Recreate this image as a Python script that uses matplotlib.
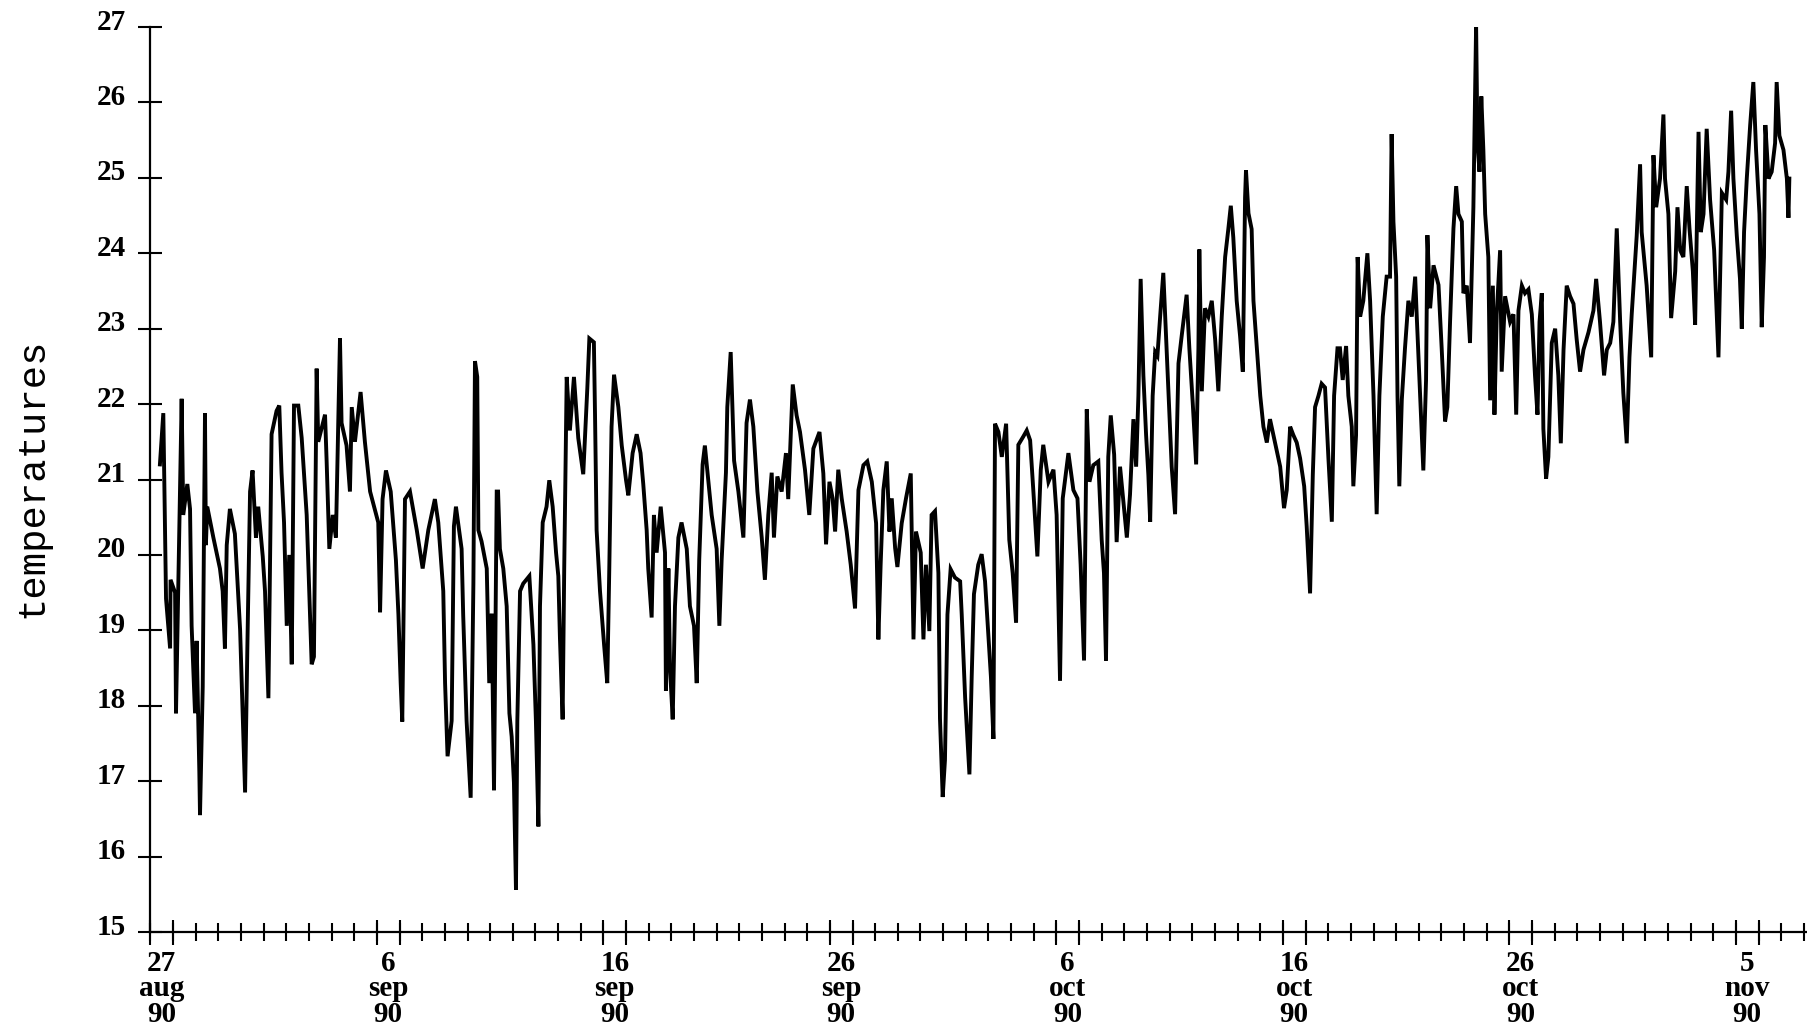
import numpy as np
import matplotlib
matplotlib.use("Agg")
import matplotlib.pyplot as plt
from matplotlib.transforms import ScaledTranslation

# days since 27 aug 1990 00:00
days = [
    0.42, 0.57, 0.69, 0.87, 0.89, 1.09, 1.13, 1.38, 1.45, 1.63, 1.75, 1.82, 1.97, 2.04,
    2.16, 2.19, 2.31, 2.41, 2.45, 2.51, 2.78, 3.07, 3.19, 3.29, 3.37, 3.51, 3.73, 3.96,
    4.18, 4.28, 4.40, 4.51, 4.66, 4.76, 4.96, 5.06, 5.21, 5.35, 5.57, 5.69, 5.79, 5.90,
    6.02, 6.13, 6.24, 6.34, 6.53, 6.68, 6.90, 7.12, 7.22, 7.34, 7.41, 7.71, 7.78, 7.90,
    8.05, 8.19, 8.37, 8.44, 8.66, 8.81, 8.89, 9.03, 9.28, 9.47, 9.70, 10.06, 10.14, 10.25,
    10.40, 10.61, 10.84, 10.95, 11.05, 11.12, 11.24, 11.46, 11.76, 12.02, 12.27, 12.56,
    12.71, 12.93, 13.01, 13.12, 13.30, 13.40, 13.49, 13.74, 13.81, 13.96, 14.14, 14.26,
    14.33,
    14.43, 14.48, 14.62, 14.85, 14.96, 15.07, 15.17, 15.29, 15.35, 15.43, 15.58, 15.73,
    15.85, 15.95, 16.05, 16.14, 16.20, 16.32, 16.46, 16.73, 16.91, 17.02, 17.13, 17.20,
    17.32, 17.49, 17.61, 17.76, 17.91, 18.01, 18.08, 18.20, 18.27, 18.38, 18.52, 18.70,
    18.89, 19.11, 19.29, 19.38, 19.58, 19.63, 19.70, 19.85, 20.03, 20.17, 20.26, 20.36,
    20.47, 20.66, 20.81, 21.00, 21.10, 21.29, 21.47, 21.64, 21.76, 21.91, 21.98, 22.13,
    22.23, 22.35, 22.53, 22.72, 22.76, 22.87, 22.94, 23.06, 23.16, 23.31, 23.45, 23.68,
    23.82, 24.00, 24.12, 24.23, 24.38, 24.48, 24.63, 24.78, 25.00, 25.12, 25.22, 25.41,
    25.47, 25.62, 25.77, 25.96, 26.18, 26.32, 26.47, 26.62, 26.80, 26.99, 27.13, 27.28,
    27.43, 27.53, 27.68, 27.87, 28.06, 28.16, 28.36,
    28.53, 28.68, 28.90, 29.09, 29.27, 29.54, 29.71, 29.83, 29.98, 30.12, 30.23, 30.37,
    30.52, 30.74, 30.92, 31.11, 31.26, 31.48, 31.65, 31.85, 32.04, 32.14, 32.24, 32.36,
    32.51, 32.63, 32.73, 32.88, 32.98, 33.17, 33.36, 33.57, 33.69, 33.80, 34.01, 34.13,
    34.24, 34.39, 34.49, 34.64, 34.79, 34.86, 34.98, 35.08, 35.19, 35.33, 35.52, 35.75,
    35.82, 35.97, 36.16, 36.26, 36.36, 36.55, 36.70, 36.85, 37.00, 37.11, 37.22, 37.29,
    37.44, 37.59, 37.78, 37.92, 38.07, 38.22, 38.32, 38.54, 38.69, 38.84, 38.98, 39.16,
    39.31, 39.42, 39.65, 39.87, 40.01, 40.16, 40.28, 40.53, 40.75, 40.93, 41.07, 41.22,
    41.34, 41.46, 41.63, 41.85, 42.00, 42.10, 42.19, 42.29, 42.40,
    42.55, 42.66, 42.81, 42.96, 43.11, 43.25, 43.40, 43.52, 43.62, 43.72, 43.84, 43.96,
    44.06, 44.14, 44.25, 44.36, 44.46, 44.58, 44.72, 44.84, 44.95, 45.09, 45.24, 45.39,
    45.53, 45.75, 45.87, 46.02, 46.17, 46.27, 46.31, 46.42, 46.56, 46.71, 46.86, 47.01,
    47.15, 47.30, 47.45, 47.59, 47.70, 47.81, 47.96, 48.11, 48.23, 48.33, 48.37, 48.48,
    48.62, 48.70, 48.85, 49.00, 49.14, 49.29, 49.43, 49.58, 49.73, 49.88, 50.05, 50.17,
    50.32, 50.46, 50.61, 50.76, 50.94, 51.05, 51.20, 51.32, 51.42, 51.57, 51.71, 51.86,
    52.01, 52.16, 52.26, 52.41, 52.52, 52.64, 52.79, 52.89, 53.04, 53.11, 53.23, 53.30,
    53.41, 53.55, 53.73, 53.85, 54.00, 54.14, 54.26, 54.41, 54.58, 54.73, 54.80, 54.88,
    55.00, 55.06, 55.14, 55.25, 55.39, 55.54, 55.69, 55.84, 55.91, 56.06, 56.20, 56.32,
    56.38, 56.50, 56.65, 56.87, 57.01,
    57.16, 57.26, 57.38, 57.53, 57.65, 57.75, 57.90, 57.97, 58.12, 58.26, 58.34, 58.41,
    58.53, 58.59, 58.68, 58.76, 58.85, 58.93, 59.07, 59.15, 59.27, 59.34, 59.44, 59.59,
    59.66, 59.81, 60.03, 60.18, 60.30, 60.40, 60.55, 60.69, 60.84, 60.99, 61.13, 61.24,
    61.33, 61.43, 61.50, 61.62, 61.72, 61.87, 62.02, 62.16, 62.27, 62.39, 62.53, 62.68,
    62.83, 62.97, 63.12, 63.27, 63.49, 63.71, 63.83, 64.00, 64.18, 64.30, 64.45, 64.59,
    64.74, 64.89, 65.03, 65.18, 65.30, 65.40, 65.62, 65.77, 65.84, 66.06, 66.26, 66.36,
    66.48, 66.65, 66.80, 66.87, 67.02, 67.14, 67.32, 67.42, 67.54, 67.68, 67.83, 67.95,
    68.10, 68.20, 68.35, 68.45, 68.57, 68.71, 68.86, 69.04, 69.23, 69.38, 69.57, 69.67,
    69.79, 69.89, 70.04, 70.18, 70.26, 70.36, 70.48, 70.63, 70.77, 70.89, 71.04, 71.14,
    71.24, 71.30, 71.44, 71.58, 71.73, 71.80, 71.92, 72.10, 72.25, 72.32, 72.36,
]

temps = [
    21.20, 21.88, 19.42, 18.76, 19.67, 19.50, 17.90, 22.07, 20.53, 20.94, 20.61, 19.06,
    17.90, 18.86, 17.13, 16.55, 18.25, 21.88, 20.13, 20.64, 20.23, 19.82, 19.52, 18.76,
    20.13, 20.61, 20.28, 19.01, 16.85, 18.76, 20.84, 21.12, 20.23, 20.64, 19.98, 19.52,
    18.10, 21.60, 21.91, 21.98, 21.09, 20.43, 19.06, 20.00, 18.55, 21.98, 21.98, 21.55,
    20.53, 18.55, 18.65, 22.47, 21.50, 21.86, 21.25, 20.08, 20.53, 20.23, 22.87, 21.75,
    21.45, 20.84, 21.96, 21.50, 22.16, 21.50, 20.84, 20.43, 19.24, 20.74, 21.12, 20.84,
    19.93, 19.21, 18.30, 17.79, 20.74, 20.84, 20.33, 19.82, 20.33, 20.74, 20.43, 19.52,
    18.30, 17.33, 17.80, 20.38, 20.64, 20.08, 19.20, 17.80, 16.78, 19.62, 22.57,
    22.36, 20.33, 20.18, 19.82, 18.30, 19.22, 16.88, 20.84, 20.84, 20.08, 19.82, 19.32,
    17.90, 17.59, 16.98, 15.56, 17.80, 19.52, 19.62, 19.72, 18.81, 17.80, 16.40, 19.32,
    20.43, 20.64, 20.99, 20.64, 20.03, 19.72, 18.91, 17.82, 19.82, 22.36, 21.65, 22.36,
    21.55, 21.07, 22.21, 22.87, 22.82, 21.86, 20.33, 19.52, 18.81, 18.30, 19.82, 21.70,
    22.39, 21.96, 21.45, 20.99, 20.79, 21.35, 21.60, 21.35, 20.94, 20.33, 19.82, 19.17,
    20.53, 20.03, 20.64, 20.03, 18.20, 19.82, 18.50, 17.82, 19.32, 20.23, 20.43, 20.08,
    19.32, 19.06, 18.30, 19.93, 21.20, 21.45, 20.99, 20.53, 20.08, 19.06, 19.93, 21.09,
    21.96, 22.69, 21.25, 20.84, 20.23, 21.75, 22.06, 21.70, 20.84, 20.23, 19.67, 20.53,
    21.09, 20.23, 21.04, 20.84, 21.35, 20.74, 22.26,
    21.85, 21.63, 21.13, 20.53, 21.41, 21.63, 21.08, 20.14, 20.97, 20.75, 20.31, 21.13,
    20.75, 20.31, 19.87, 19.29, 20.86, 21.19, 21.24, 20.97, 20.42, 18.88, 19.87, 20.86,
    21.24, 20.31, 20.75, 20.09, 19.84, 20.42, 20.75, 21.08, 18.88, 20.31, 20.03, 18.88,
    19.87, 18.99, 20.53, 20.58, 19.76, 17.83, 16.79, 17.28, 19.21, 19.81, 19.70, 19.65,
    19.21, 18.11, 17.09, 18.38, 19.48, 19.87, 20.01, 19.65, 18.93, 18.38, 17.56, 21.74,
    21.63, 21.30, 21.74, 20.20, 19.76, 19.10, 21.46, 21.57, 21.65, 21.52, 20.86, 19.98,
    21.13, 21.46, 20.97, 21.13, 20.53, 18.33, 20.75, 21.35, 20.86, 20.75, 19.87, 18.60,
    21.93, 20.97, 21.19, 21.24, 20.20, 19.76, 18.60, 21.30, 21.85,
    21.33, 20.17, 21.17, 20.70, 20.23, 20.80, 21.80, 21.17, 22.11, 23.66, 22.38, 21.59,
    21.06, 20.44, 22.11, 22.69, 22.64, 23.16, 23.74, 22.90, 22.11, 21.17, 20.54, 22.54,
    22.90, 23.45, 22.74, 22.01, 21.20, 22.74, 24.05, 22.17, 23.27, 23.16, 23.37, 22.85,
    22.17, 23.16, 23.95, 24.32, 24.63, 24.21, 23.37, 22.90, 22.43, 24.74, 25.10, 24.53,
    24.32, 23.37, 22.74, 22.11, 21.70, 21.49, 21.80, 21.59, 21.38, 21.17, 20.62, 20.86,
    21.70, 21.59, 21.49, 21.28, 20.91, 20.38, 19.49, 21.06, 21.96, 22.11, 22.27, 22.22,
    21.28, 20.44, 22.11, 22.74, 22.74, 22.32, 22.77, 22.11, 21.70, 20.91, 21.59, 23.95,
    23.16, 23.37, 24.00, 23.37, 22.11, 20.54, 22.11, 23.16, 23.69, 23.69, 25.58, 24.42,
    23.69, 22.11, 20.91, 22.06, 22.74, 23.37, 23.16, 23.69, 23.16, 22.11, 21.12, 22.32,
    24.24, 23.27, 23.84, 23.58, 22.74,
    21.77, 21.96, 23.09, 24.33, 24.89, 24.52, 24.42, 23.47, 23.57, 22.81, 23.76, 24.61,
    27.03, 25.46, 25.08, 26.08, 25.37, 24.52, 23.95, 22.05, 23.57, 21.86, 23.19, 24.04,
    22.43, 23.43, 23.09, 23.19, 21.86, 23.24, 23.57, 23.47, 23.52, 23.19, 22.38, 21.86,
    23.09, 23.47, 21.67, 21.01, 21.30, 22.81, 23.00, 22.38, 21.48, 22.72, 23.57, 23.43,
    23.33, 22.86, 22.43, 22.72, 22.95, 23.24, 23.66, 23.09, 22.38, 22.72, 22.81, 23.09,
    24.33, 23.09, 22.15, 21.48, 22.62, 23.19, 24.23, 25.18, 24.28, 23.57, 22.62, 25.30,
    24.61, 24.99, 25.84, 24.99, 24.52, 23.14, 23.76, 24.61, 24.04, 23.95, 24.89, 24.33,
    23.76, 23.05, 25.61, 24.28, 24.52, 25.65, 24.71, 24.04, 22.62, 24.80, 24.71, 25.08,
    25.89, 24.99, 24.23, 23.66, 23.00, 24.28, 24.99, 25.70, 26.27, 25.37, 24.52, 23.02,
    23.95, 25.70, 24.99, 25.08, 25.46, 26.27, 25.56, 25.37, 24.99, 24.47, 24.99,
]

y_ticks = list(range(15, 28))
label_days = [0.5, 10.5, 20.5, 30.5, 40.5, 50.5, 60.5, 70.5]
label_text = ["27\naug\n90", "6\nsep\n90", "16\nsep\n90", "26\nsep\n90",
              "6\noct\n90", "16\noct\n90", "26\noct\n90", "5\nnov\n90"]
long_ticks = [0, 1, 10, 11, 20, 21, 30, 31, 40, 41, 50, 51, 60, 61, 70, 71]
n_days = 73

W, H = 1807, 1029
fig = plt.figure(figsize=(W / 100, H / 100), dpi=100)
ax = fig.add_axes([150.4 / W, (H - 932) / H, (W - 150.4) / W, (932 - 27) / H])

ax.plot(days, temps, color="black", lw=2.8, solid_joinstyle="miter")

ax.set_xlim(0, (W - 150.4) / 22.65)
ax.set_ylim(15, 27)
for side in ["top", "right"]:
    ax.spines[side].set_visible(False)
for side in ["left", "bottom"]:
    ax.spines[side].set_linewidth(1.6)

tick_font = dict(family="Liberation Serif", weight="bold", size=21)

ax.set_yticks(y_ticks)
ax.set_yticklabels([str(v) for v in y_ticks], **tick_font)
ax.tick_params(axis="y", direction="inout", length=17, width=1.5, pad=9)
shift = ScaledTranslation(0, 8 / 100, fig.dpi_scale_trans)
for lab in ax.get_yticklabels():
    lab.set_transform(lab.get_transform() + shift)

ax.set_xticks(label_days)
ax.set_xticklabels(label_text, linespacing=0.92, **tick_font)
ax.tick_params(axis="x", which="major", length=0, pad=13)
ax.set_xticks(range(0, n_days + 1), minor=True)
ax.tick_params(axis="x", which="minor", direction="inout", length=13, width=1.5)

sec = ax.secondary_xaxis("bottom")
sec.set_xticks(long_ticks)
sec.tick_params(direction="inout", length=18, width=1.5, labelbottom=False)
sec.spines["bottom"].set_visible(False)

fig.text(32 / W, 1 - 478 / H, "temperatures", rotation=90, ha="center",
         va="center", family="Liberation Mono", size=28)

fig.savefig("out.png", dpi=100, facecolor="white")
